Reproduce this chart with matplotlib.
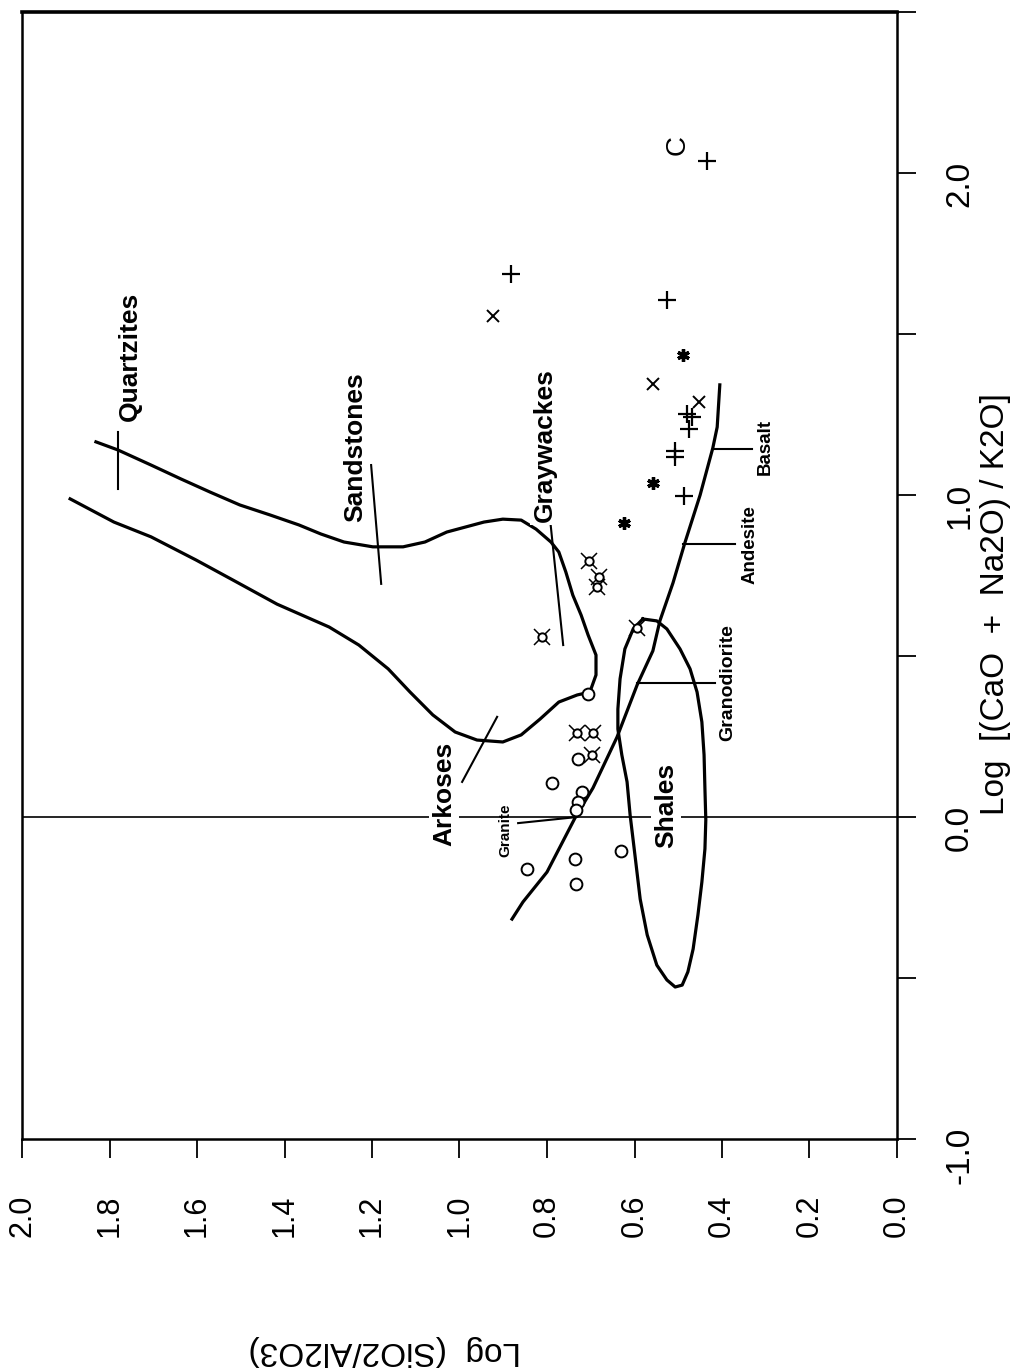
import matplotlib
matplotlib.use("Agg")
import matplotlib.pyplot as plt
import numpy as np

plt.rcParams['font.family'] = ['Liberation Sans', 'DejaVu Sans']

# cao = Log[(CaO + Na2O)/K2O], sio = Log(SiO2/Al2O3)

# quartzite / sandstone / graywacke / arkose field, traced as one open line
field_cao = [0.988, 0.916, 0.870, 0.798, 0.736, 0.661, 0.590, 0.534, 0.460, 0.388,
             0.317, 0.264, 0.239, 0.233, 0.255, 0.304, 0.357, 0.379, 0.388, 0.441,
             0.503, 0.565, 0.627, 0.689, 0.761, 0.823, 0.854, 0.894, 0.922, 0.925,
             0.916, 0.885, 0.854, 0.839, 0.839, 0.854, 0.879, 0.907, 0.938, 0.969,
             1.009, 1.050, 1.093, 1.140, 1.165]
field_sio = [1.890, 1.790, 1.705, 1.602, 1.518, 1.417, 1.298, 1.230, 1.163, 1.113,
             1.061, 1.010, 0.960, 0.901, 0.859, 0.816, 0.773, 0.731, 0.702, 0.688,
             0.688, 0.706, 0.722, 0.741, 0.757, 0.773, 0.791, 0.825, 0.859, 0.901,
             0.944, 1.029, 1.079, 1.129, 1.198, 1.264, 1.317, 1.367, 1.433, 1.502,
             1.570, 1.637, 1.705, 1.781, 1.831]

# shale field (closed)
shale_cao = [0.615, 0.609, 0.584, 0.522, 0.460, 0.388, 0.295, 0.193, 0.087, -0.009,
             -0.099, -0.202, -0.304, -0.410, -0.481, -0.522, -0.528, -0.506, -0.460,
             -0.366, -0.255, -0.118, 0.006, 0.109, 0.193, 0.273, 0.335, 0.429, 0.522,
             0.584, 0.615]
shale_sio = [0.581, 0.549, 0.526, 0.496, 0.473, 0.457, 0.446, 0.441, 0.439, 0.437,
             0.439, 0.446, 0.455, 0.466, 0.478, 0.491, 0.507, 0.526, 0.549, 0.571,
             0.587, 0.599, 0.610, 0.617, 0.629, 0.638, 0.638, 0.633, 0.622, 0.603,
             0.581]

# igneous trend granite -> basalt
ign_cao = [-0.317, -0.264, -0.171, -0.003, 0.090, 0.248, 0.410, 0.516, 0.609, 0.727,
           0.851, 1.000, 1.146, 1.211, 1.342]
ign_sio = [0.880, 0.855, 0.800, 0.736, 0.695, 0.640, 0.594, 0.558, 0.542, 0.512,
           0.485, 0.450, 0.421, 0.411, 0.405]

# samples by symbol
plus_cao = [1.686, 1.606, 2.037, 1.252, 1.242, 1.205, 1.137, 1.118, 0.997]
plus_sio = [0.882, 0.526, 0.434, 0.480, 0.469, 0.475, 0.507, 0.507, 0.487]
cross_cao = [1.556, 1.345, 1.289]
cross_sio = [0.923, 0.558, 0.453]
star_cao = [1.435, 1.037, 0.913]
star_sio = [0.489, 0.558, 0.624]
circ_cao = [0.382, 0.180, 0.106, 0.078, 0.047, 0.022, -0.106, -0.130, -0.161, -0.208]
circ_sio = [0.706, 0.729, 0.789, 0.720, 0.729, 0.734, 0.631, 0.736, 0.846, 0.734]
curr_cao = [0.795, 0.745, 0.714, 0.559, 0.587, 0.261, 0.261, 0.193]
curr_sio = [0.704, 0.681, 0.686, 0.811, 0.594, 0.731, 0.695, 0.697]

# field names: label, (cao, sio) of text, leader line ends
rock_names = ['Quartzites', 'Sandstones', 'Graywackes', 'Arkoses', 'Shales']
rock_text = [(1.429, 1.753), (1.149, 1.239), (1.155, 0.805), (0.071, 1.035), (0.037, 0.528)]
rock_leader = [((1.196, 1.019), (1.781, 1.781)),
               ((1.093, 0.724), (1.202, 1.179)),
               ((0.925, 0.534), (0.793, 0.763)),
               ((0.311, 0.109), (0.914, 0.994)),
               None]

ign_names = ['Granite', 'Granodiorite', 'Andesite', 'Basalt']
ign_text = [(-0.04, 0.894), (0.419, 0.386), (0.845, 0.336), (1.149, 0.302)]
ign_size = [11, 14, 13.5, 13.5]
ign_leader = [((-0.019, 0.0), (0.866, 0.731)),
              ((0.416, 0.416), (0.594, 0.416)),
              ((0.848, 0.848), (0.489, 0.370)),
              ((1.143, 1.143), (0.419, 0.331))]

sio_ticks = [0.0, 0.2, 0.4, 0.6, 0.8, 1.0, 1.2, 1.4, 1.6, 1.8, 2.0]
cao_ticks = [-1.0, 0.0, 1.0, 2.0]
cao_tick_labels = ['-1.0', '0.0', '1.0', '2.0']
cao_minor = [-0.5, 0.5, 1.5, 2.5]

fig = plt.figure(figsize=(10.15, 13.72), dpi=100)
ax = fig.add_axes([22 / 1015, 1 - 1139 / 1372, 875 / 1015, 1127 / 1372])

ax.set_xlim(2.0, 0.0)
ax.set_ylim(-1.0, 2.5)

# zero line of the ratio axis
ax.plot([2.0, 0.0], [0.0, 0.0], color='black', lw=1.2, zorder=1)

ax.plot(field_sio, field_cao, color='black', lw=2.3, solid_joinstyle='round', zorder=2)
ax.plot(shale_sio, shale_cao, color='black', lw=2.3, solid_joinstyle='round', zorder=2)
ax.plot(ign_sio, ign_cao, color='black', lw=2.3, solid_joinstyle='round', zorder=2)

for name, (tc, ts), lead in zip(rock_names, rock_text, rock_leader):
    if lead is not None:
        ax.plot(lead[1], lead[0], color='black', lw=1.5, zorder=2)
    ax.text(ts, tc, name, rotation=90, ha='center', va='center', fontsize=19,
            fontweight='bold', zorder=4,
            bbox=dict(facecolor='white', edgecolor='none', pad=2))

for name, (tc, ts), lead, fs in zip(ign_names, ign_text, ign_leader, ign_size):
    ax.plot(lead[1], lead[0], color='black', lw=1.5, zorder=2)
    ax.text(ts, tc, name, rotation=90, ha='center', va='center', fontsize=fs,
            fontweight='bold', zorder=4)

ax.plot(plus_sio, plus_cao, linestyle='none', marker='+', ms=13, mew=1.6,
        color='black', zorder=5)
ax.plot(cross_sio, cross_cao, linestyle='none', marker='x', ms=9, mew=1.4,
        color='black', zorder=5)
ax.plot(star_sio, star_cao, linestyle='none', marker=(6, 2, 0), ms=9, mew=2.4,
        color='black', zorder=5)
ax.plot(circ_sio, circ_cao, linestyle='none', marker='o', ms=8.5, mew=1.4,
        mfc='white', mec='black', zorder=5)
# circle with corner ticks
ax.plot(curr_sio, curr_cao, linestyle='none', marker='x', ms=11, mew=1.1,
        color='black', zorder=5)
ax.plot(curr_sio, curr_cao, linestyle='none', marker='o', ms=6, mew=1.4,
        mfc='white', mec='black', zorder=6)

ax.text(0.501, 2.087, 'C', rotation=90, ha='center', va='center', fontsize=20)

for side in ['top', 'left', 'right', 'bottom']:
    ax.spines[side].set_linewidth(1.8)
ax.spines['top'].set_linewidth(2.6)

ax.set_xticks(sio_ticks)
ax.set_xticklabels(['%.1f' % v for v in sio_ticks])
ax.tick_params(axis='x', direction='out', length=14, width=1.3, pad=26,
               labelsize=22, labelrotation=90)

ax.yaxis.tick_right()
ax.set_yticks(cao_ticks)
ax.set_yticklabels(cao_tick_labels)
ax.set_yticks(cao_minor, minor=True)
ax.tick_params(axis='y', which='both', direction='out', length=14, width=1.3,
               left=False, right=True, labelleft=False, labelright=True)
ax.tick_params(axis='y', which='major', pad=20, labelsize=24, labelrotation=90)

fig.text(0.981, 0.56, 'Log  [(CaO  +  Na2O) / K2O]', rotation=90, ha='center',
         va='center', fontsize=24)
fig.text(0.379, 0.016, 'Log  (SiO2/Al2O3)', rotation=180, ha='center',
         va='center', fontsize=24)

fig.savefig('out.png', dpi=100)
